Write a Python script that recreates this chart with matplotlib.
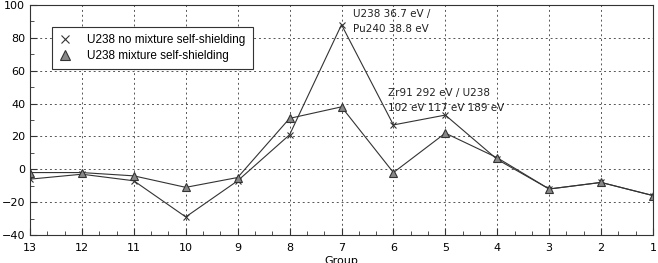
import matplotlib.pyplot as plt
from matplotlib.ticker import MultipleLocator, AutoMinorLocator

groups = [13, 12, 11, 10, 9, 8, 7, 6, 5, 4, 3, 2, 1]
no_mix = [-6, -3, -7, -29, -7, 21, 88, 27, 33, 6, -12, -8, -16]
mix = [-2, -2, -4, -11, -5, 31, 38, -2, 22, 7, -12, -8, -16]

fig = plt.figure(figsize=(6.58, 2.63), dpi=100)
ax = fig.add_axes([30/658, 1-235/263, 623/658, 230/263])

ax.plot(groups, no_mix, color='#333333', lw=0.8, marker='x', ms=5,
        mew=0.8, label='U238 no mixture self-shielding')
ax.plot(groups, mix, color='#333333', lw=0.8, marker='^', ms=5.5,
        mfc='#888888', mec='#333333', mew=0.8, label='U238 mixture self-shielding')

ax.set_xlim(13, 1)
ax.set_ylim(-40, 100)
ax.xaxis.set_major_locator(MultipleLocator(1))
ax.xaxis.set_minor_locator(AutoMinorLocator(3))
ax.yaxis.set_major_locator(MultipleLocator(20))
ax.yaxis.set_minor_locator(MultipleLocator(10))
ax.tick_params(which='both', direction='in', labelsize=8, color='#333333')
ax.tick_params(axis='x', pad=6)
ax.tick_params(which='major', length=5)
ax.tick_params(which='minor', length=3)
ax.grid(True, which='major', ls=(0, (2, 3)), color='#555555', lw=0.7)
for s in ax.spines.values():
    s.set_color('#333333')
    s.set_linewidth(0.8)

ax.set_xlabel('Group', fontsize=8, labelpad=2)

leg = ax.legend(loc='upper left', bbox_to_anchor=(22/623, 1-22/230),
                prop={'family': 'Liberation Sans', 'size': 8.5},
                fancybox=False, framealpha=1, edgecolor='#333333',
                borderaxespad=0, handlelength=1.0, handletextpad=1.4,
                borderpad=0.6, labelspacing=0.35, numpoints=1,
                markerscale=1.25)
leg.get_frame().set_linewidth(0.8)
for h in leg.get_lines():
    h.set_linestyle('none')

ax.text(7 - 0.22, 97.5, 'U238 36.7 eV /\nPu240 38.8 eV', fontsize=7.5,
        va='top', ha='left', linespacing=1.6, color='#222222')
ax.text(6 + 0.1, 49.5, 'Zr91 292 eV / U238\n102 eV 117 eV 189 eV', fontsize=7.5,
        va='top', ha='left', linespacing=1.6, color='#222222')

fig.savefig('out.png', dpi=100)
